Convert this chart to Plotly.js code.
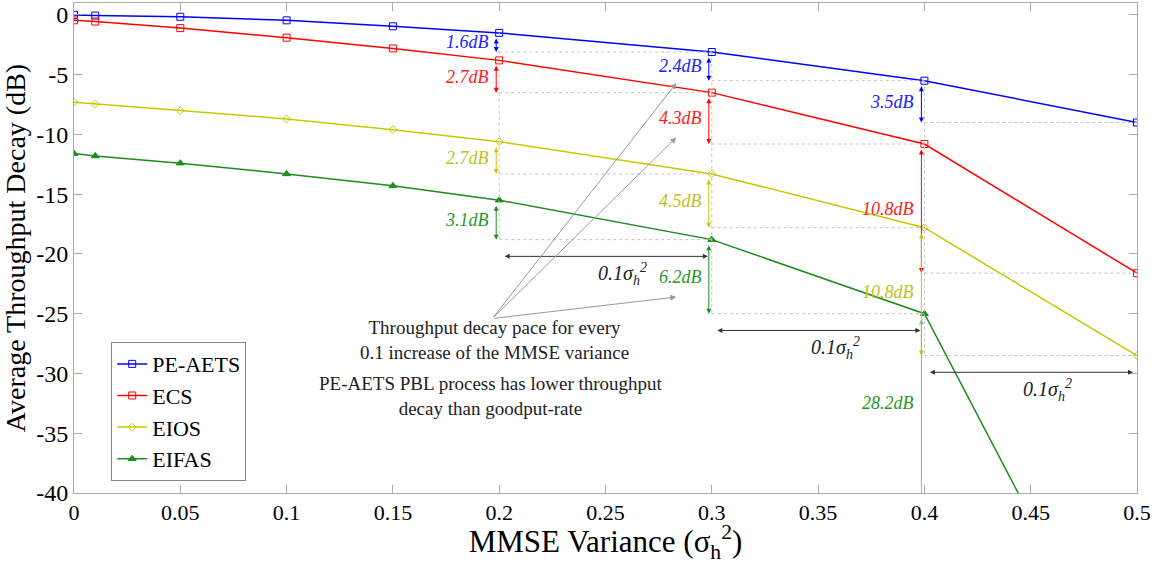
<!DOCTYPE html>
<html><head><meta charset="utf-8">
<script src="https://cdn.plot.ly/plotly-3.0.1.min.js"></script>
<style>body{margin:0;background:#fff}#chart{width:1168px;height:564px}</style>
</head><body><div id="chart"></div>
<script>
// ---- data ----
const xVals = [0, 0.01, 0.05, 0.1, 0.15, 0.2, 0.3, 0.4, 0.5];
const seriesNames = ['PE-AETS', 'ECS', 'EIOS', 'EIFAS'];
const peAets = [0, -0.05, -0.15, -0.45, -0.95, -1.5, -3.1, -5.5, -9.0];
const ecs    = [-0.45, -0.55, -1.1, -1.9, -2.8, -3.8, -6.5, -10.8, -21.6];
const eios   = [-7.3, -7.45, -8.0, -8.7, -9.6, -10.6, -13.3, -17.8, -28.5];
const eifas  = [-11.6, -11.8, -12.4, -13.3, -14.3, -15.5, -18.8, -25.0, -59.0];
// decay-pace labels, per series, at x = 0.2, 0.3, 0.4
const paceX = [0.2, 0.3, 0.4];
const paceLabels = [
  ['1.6dB', '2.4dB', '3.5dB'],
  ['2.7dB', '4.3dB', '10.8dB'],
  ['2.7dB', '4.5dB', '10.8dB'],
  ['3.1dB', '6.2dB', '28.2dB']
];
const spanLabel = '0.1σ<sub>h</sub><sup>2</sup>';
const yTicks = [0, -5, -10, -15, -20, -25, -30, -35, -40];
const xTicks = [0, 0.05, 0.1, 0.15, 0.2, 0.25, 0.3, 0.35, 0.4, 0.45, 0.5];

// ---- styles ----
const colors = ['#0000ff', '#ff0000', '#c8c800', '#1e8c1e'];
const labelColors = ['#2020ff', '#ff2020', '#c0c020', '#2a962a'];
const symbols = ['square-open', 'square-open', 'diamond-open', 'triangle-up'];
const allY = [peAets, ecs, eios, eifas];
const YMIN = -40;
const serif = '"Liberation Serif", "Times New Roman", serif';

const traces = allY.map((ys, i) => ({
  x: xVals, y: ys, name: seriesNames[i], type: 'scatter', mode: 'lines+markers',
  line: {color: colors[i], width: 1.5},
  marker: {symbol: symbols[i], size: i === 2 ? 6 : 7, color: colors[i], line: {color: colors[i], width: 1}}
}));

const shapes = [];
const annotations = [];
const dotted = {color: '#c4c4c4', width: 1, dash: 'dot'};

paceX.forEach((px, k) => {
  const idx = xVals.indexOf(px);
  const nx = xVals[idx + 1];
  const nextVals = allY.map(ys => Math.max(ys[idx + 1], YMIN));
  allY.forEach((ys) => {
    if (ys[idx + 1] >= YMIN) {
      shapes.push({type: 'line', xref: 'x', yref: 'y', x0: px, x1: nx, y0: ys[idx + 1], y1: ys[idx + 1], line: dotted});
    }
  });
  const visibleNext = allY.map(ys => ys[idx + 1]).filter(v => v >= YMIN);
  const lowest = Math.min(...visibleNext);
  shapes.push({type: 'line', xref: 'x', yref: 'y', x0: px, x1: px, y0: allY[0][idx], y1: lowest, line: dotted});
  allY.forEach((ys, s) => {
    const yTop = ys[idx];
    const yBot = nextVals[s];
    const clipped = ys[idx + 1] < YMIN;
    annotations.push({
      x: px, y: yBot, ax: px, ay: yTop, xref: 'x', yref: 'y', axref: 'x', ayref: 'y',
      text: '', showarrow: true, arrowcolor: clipped ? '#7cc47c' : colors[s], arrowwidth: 1,
      arrowhead: clipped ? 0 : 2, startarrowhead: 2, arrowside: clipped ? 'start' : 'end+start',
      arrowsize: 1, startarrowsize: 1, standoff: 0, startstandoff: 4, xshift: -3
    });
    annotations.push({
      x: px, y: (yTop + yBot) / 2, xref: 'x', yref: 'y', text: '<i>' + paceLabels[s][k] + '</i>',
      showarrow: false, xanchor: 'right', xshift: -8,
      font: {family: serif, size: 18, color: labelColors[s]}
    });
  });
  const spanY = lowest - 1.4;
  annotations.push({
    x: nx, y: spanY, ax: px, ay: spanY, xref: 'x', yref: 'y', axref: 'x', ayref: 'y',
    text: '', showarrow: true, arrowcolor: '#333', arrowwidth: 1, arrowhead: 2, startarrowhead: 2,
    arrowside: 'end+start', standoff: 4, startstandoff: 4
  });
  annotations.push({
    x: (px + nx) / 2 + 0.008, y: spanY, xref: 'x', yref: 'y', text: '<i>' + spanLabel + '</i>',
    showarrow: false, yshift: -18, font: {family: serif, size: 20, color: '#222'}
  });
});

annotations.push({
  x: 0.198, y: -27.2, xref: 'x', yref: 'y', showarrow: false,
  text: 'Throughput decay pace for every<br>0.1 increase of the MMSE variance',
  font: {family: serif, size: 19, color: '#222'}, align: 'center'
});
annotations.push({
  x: 0.196, y: -31.9, xref: 'x', yref: 'y', showarrow: false,
  text: 'PE-AETS PBL process has lower throughput<br>decay than goodput-rate',
  font: {family: serif, size: 19, color: '#222'}, align: 'center'
});
[[0.2833, -5.7], [0.2833, -10.25], [0.2833, -23.6]].forEach(([tx, ty]) => {
  annotations.push({
    x: tx, y: ty, ax: 0.1968, ay: -25.4, xref: 'x', yref: 'y', axref: 'x', ayref: 'y',
    text: '', showarrow: true, arrowcolor: '#999', arrowwidth: 1, arrowhead: 2, arrowsize: 1.2
  });
});

const layout = {
  width: 1168, height: 564,
  margin: {l: 74, r: 31, t: 3, b: 71},
  paper_bgcolor: '#fff', plot_bgcolor: '#fff',
  font: {family: serif, color: '#000'},
  showlegend: true,
  legend: {
    x: 0.035, y: 0.308, xanchor: 'left', yanchor: 'top',
    bgcolor: '#fff', bordercolor: '#888', borderwidth: 1,
    font: {family: serif, size: 22, color: '#000'}, tracegroupgap: 0, itemwidth: 30
  },
  xaxis: {
    range: [0, 0.5], tickvals: xTicks, ticktext: xTicks.map(String),
    ticks: 'inside', ticklen: 8, tickcolor: '#aaa', showline: true, linecolor: '#aaa', mirror: 'ticks',
    showgrid: false, zeroline: false, tickfont: {family: serif, size: 22, color: '#000'},
    title: {text: 'MMSE Variance (σ<sub>h</sub><sup>2</sup>)', font: {family: serif, size: 31, color: '#000'}, standoff: 8}
  },
  yaxis: {
    range: [-40, 1], tickvals: yTicks, ticktext: yTicks.map(String),
    ticks: 'inside', ticklen: 8, tickcolor: '#aaa', showline: true, linecolor: '#aaa', mirror: 'ticks',
    showgrid: false, zeroline: false, tickfont: {family: serif, size: 24, color: '#000'},
    title: {text: 'Average Throughput Decay (dB)', font: {family: serif, size: 28, color: '#000'}, standoff: 2}
  },
  shapes: shapes, annotations: annotations
};

Plotly.newPlot('chart', traces, layout, {displayModeBar: false, staticPlot: true});
</script></body></html>
